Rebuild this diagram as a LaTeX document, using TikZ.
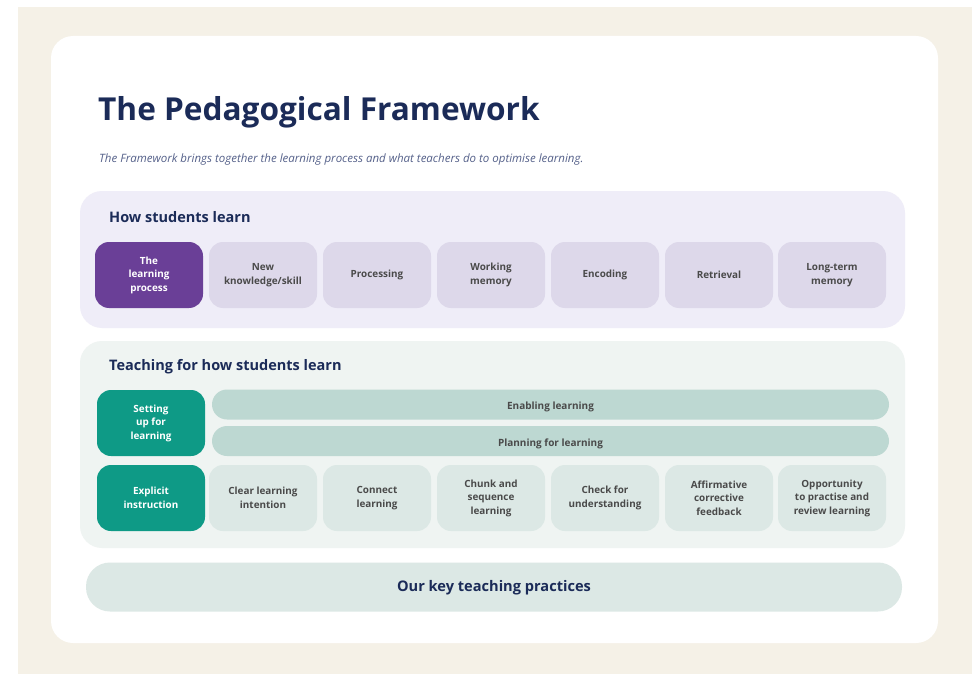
\documentclass[tikz,border=0pt]{standalone}
\usepackage{fontspec}
\setmainfont{Open Sans}
\begin{document}
\definecolor{pageBg}{HTML}{F5F1E7}
\definecolor{navy}{HTML}{1B2B58}
\definecolor{subGrey}{HTML}{55618A}
\definecolor{lilacPanel}{HTML}{EFEDF8}
\definecolor{lilacBox}{HTML}{DDD8EA}
\definecolor{purpleBox}{HTML}{6A3F97}
\definecolor{mintPanel}{HTML}{EFF4F2}
\definecolor{mintBox}{HTML}{DCE8E5}
\definecolor{mintBar}{HTML}{BDD8D2}
\definecolor{tealBox}{HTML}{0E9A86}
\definecolor{boxText}{HTML}{4A4A4A}
\begin{tikzpicture}[x=1pt,y=-1pt,
  panel/.style={rounded corners=22pt},
  cell/.style={rectangle,rounded corners=14pt,minimum width=108pt,minimum height=66pt,
    inner sep=2pt,align=center,text=boxText,
    font=\fontsize{9.9}{13.5}\selectfont\bfseries},
  lilaccell/.style={cell,fill=lilacBox},
  mintcell/.style={cell,fill=mintBox},
  keycell/.style={cell,text=white},
  bar/.style={rectangle,rounded corners=15pt,fill=mintBar,minimum width=677pt,
    minimum height=30pt,inner sep=0pt,text=boxText,text height=10pt,text depth=0pt,
    font=\fontsize{10}{12}\selectfont\bfseries},
  heading/.style={anchor=west,inner sep=0pt,text=navy,
    font=\fontsize{14.5}{17}\selectfont\bfseries}
]
% page and card
\useasboundingbox (0,0) rectangle (972,674);
\fill[pageBg] (18,7) rectangle (972,674);
\fill[white,panel] (51,36) rectangle (938,643);

% title block
\node[anchor=base west,inner sep=0pt,text=navy,font=\fontsize{31.6}{38}\selectfont\bfseries]
  (title) at (98,120.5) {The Pedagogical Framework};
\node[anchor=base west,inner sep=0pt,text=subGrey,font=\fontsize{11.5}{13}\selectfont\itshape]
  (subtitle) at (99,162) {The Framework brings together the learning process and what teachers do to optimise learning.};

% how students learn
\fill[lilacPanel,panel] (80,191) rectangle (905,328);
\node[heading] (hsl) at (109,217) {How students learn};
\node[cell,fill=purpleBox,text=white] (lp) at (149,275) {The\\learning\\process};
\node[lilaccell] (nk) at (263,275) {New\\knowledge/skill};
\node[lilaccell] (pr) at (377,275) {Processing};
\node[lilaccell] (wm) at (491,275) {Working\\memory};
\node[lilaccell] (en) at (605,275) {Encoding};
\node[lilaccell] (re) at (719,275) {Retrieval};
\node[lilaccell] (lt) at (832,275) {Long-term\\memory};

% teaching for how students learn
\fill[mintPanel,panel] (80,341) rectangle (905,548);
\node[heading] (tfl) at (109,366.5) {Teaching for how students learn};
\node[keycell,fill=tealBox] (su) at (151,423) {Setting\\up for\\learning};
\node[bar] (el) at (550.5,404.5) {Enabling learning};
\node[bar] (pl) at (550.5,441) {Planning for learning};
\node[keycell,fill=tealBox] (ei) at (151,498) {Explicit\\instruction};
\node[mintcell] (cl) at (263,498) {Clear learning\\intention};
\node[mintcell] (cn) at (377,498) {Connect\\learning};
\node[mintcell] (ch) at (491,498) {Chunk and\\sequence\\learning};
\node[mintcell] (cu) at (605,498) {Check for\\understanding};
\node[mintcell] (af) at (719,498) {Affirmative\\corrective\\feedback};
\node[mintcell] (op) at (832,498) {Opportunity\\to practise and\\review learning};

% key practices banner
\node[rectangle,rounded corners=24pt,fill=mintBox,minimum width=816pt,minimum height=49pt,
  text height=9pt,text depth=0pt,
  text=navy,font=\fontsize{14.6}{17}\selectfont\bfseries] (kp) at (494,587) {Our key teaching practices};
\end{tikzpicture}
\end{document}
